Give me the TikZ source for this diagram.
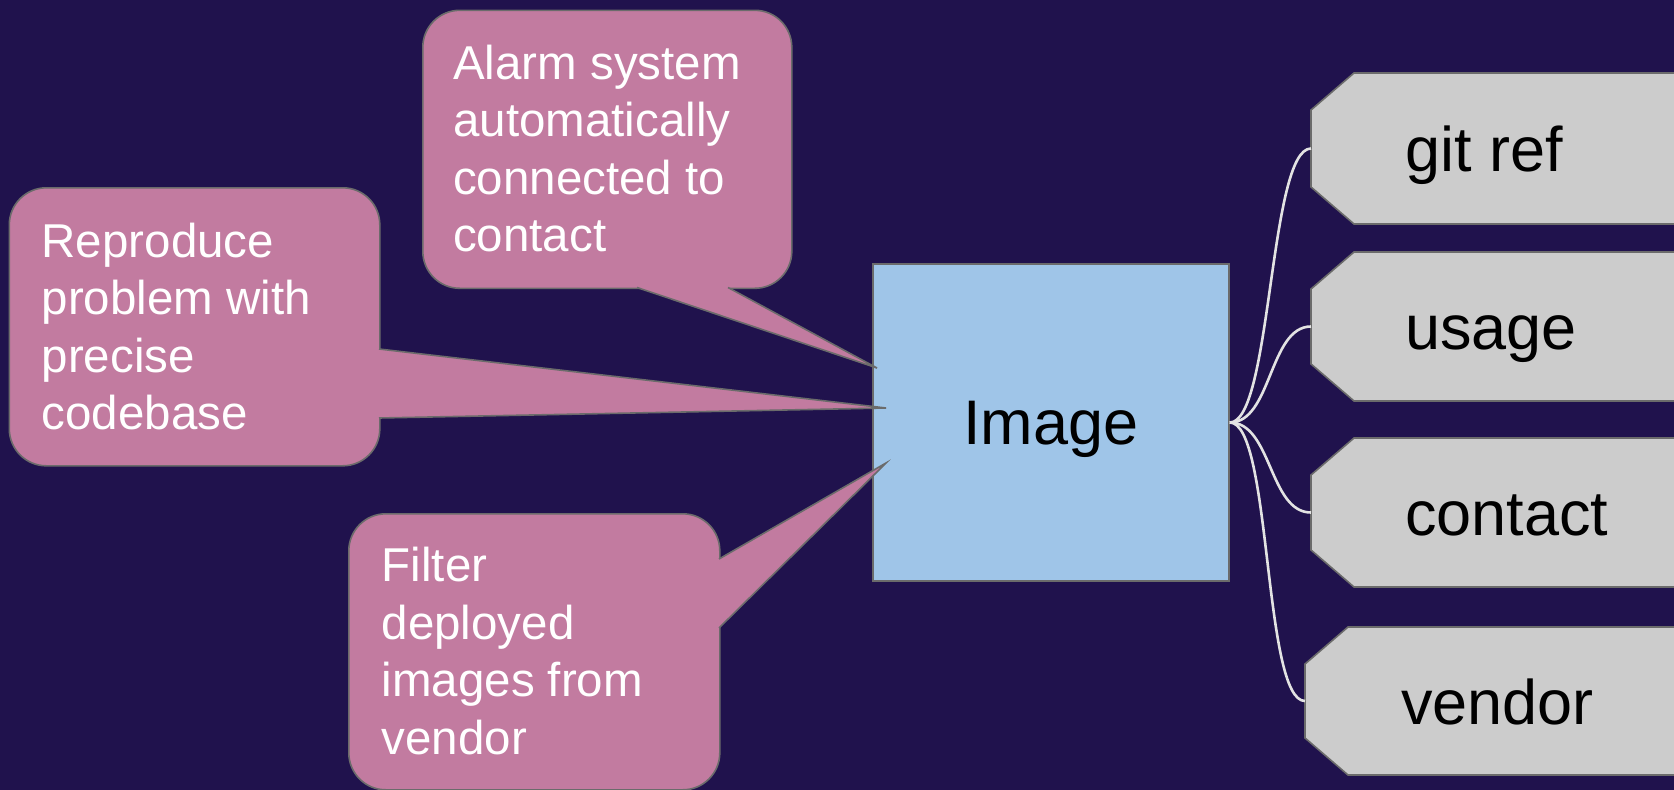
\documentclass[tikz,border=0pt]{standalone}
\usepackage{fontspec}
\setmainfont{Liberation Sans}
\definecolor{bg}{HTML}{20124D}
\definecolor{calloutpink}{HTML}{C27BA0}
\definecolor{imgblue}{HTML}{9FC5E8}
\definecolor{taggray}{HTML}{CCCCCC}
\definecolor{edgegray}{HTML}{6B6B6B}
\definecolor{connlight}{HTML}{E3E3E3}
\tikzset{
  border/.style={draw=edgegray, line width=1.6pt},
  imgbox/.style={border, fill=imgblue, rectangle, inner sep=0pt},
  calloutbox/.style={border, fill=calloutpink, rectangle, rounded corners=37pt, inner sep=0pt},
  tailfill/.style={fill=calloutpink},
  tailedge/.style={draw=edgegray, line width=1.6pt, line join=miter},
  tagshape/.style={border, fill=taggray},
  ctext/.style={text=white, inner sep=0pt, font=\fontsize{47.5}{57.5}\selectfont},
  tagtext/.style={text=black, inner sep=0pt, font=\fontsize{63}{70}\selectfont},
  conn/.style={draw=connlight, line width=2.6pt}
}
\begin{document}
\begin{tikzpicture}[x=1pt,y=-1pt]
\fill[bg] (0,0) rectangle (1674,790);
\useasboundingbox (0,0) rectangle (1674,790);
\clip (0,0) rectangle (1674,790);

% tags
\draw[tagshape] (1354,73) -- (1700,73) -- (1700,224) -- (1354,224) -- (1311,187) -- (1311,110) -- cycle;
\coordinate (gitL) at (1311,148.5);
\node[tagtext, anchor=base west] (gittxt) at (1405,171) {git ref};

\draw[tagshape] (1354,252) -- (1700,252) -- (1700,401) -- (1354,401) -- (1311,364) -- (1311,289) -- cycle;
\coordinate (usageL) at (1311,326.5);
\node[tagtext, anchor=base west] (usagetxt) at (1405,349) {usage};

\draw[tagshape] (1354,438) -- (1700,438) -- (1700,587) -- (1354,587) -- (1311,550) -- (1311,475) -- cycle;
\coordinate (contactL) at (1311,512.5);
\node[tagtext, anchor=base west] (contacttxt) at (1405,535) {contact};

\draw[tagshape] (1348,627) -- (1700,627) -- (1700,775) -- (1348,775) -- (1305,738) -- (1305,664) -- cycle;
\coordinate (vendorL) at (1305,701);
\node[tagtext, anchor=base west] (vendortxt) at (1401,724) {vendor};

% central image node
\node[imgbox, minimum width=356pt, minimum height=317pt, text depth=0pt,
      font=\fontsize{63}{70}\selectfont] (img) at (1051,422.5) {Image};

% connectors
\draw[conn] (img.east) .. controls +(42,0) and +(-42,0) .. (gitL);
\draw[conn] (img.east) .. controls +(42,0) and +(-42,0) .. (usageL);
\draw[conn] (img.east) .. controls +(42,0) and +(-42,0) .. (contactL);
\draw[conn] (img.east) .. controls +(42,0) and +(-42,0) .. (vendorL);

% callout: Reproduce
\node[calloutbox, minimum width=370.5pt, minimum height=278pt, anchor=north west] (rep) at (8.5,187) {};
\coordinate (repA) at (379,349);
\coordinate (repB) at (379,418);
\coordinate (repTip) at (886,408);
\fill[tailfill] (372,349) -- (repA) -- (repTip) -- (repB) -- (372,418) -- cycle;
\draw[tailedge] (repA) -- (repTip) -- (repB);
\node[ctext, anchor=base west] (reptxt) at (41.5,257) {\parbox[t]{330pt}{\raggedright Reproduce\\problem with\\precise\\codebase}};

% callout: Alarm
\node[calloutbox, minimum width=369pt, minimum height=278pt, anchor=north west] (alarm) at (422,9.5) {};
\coordinate (alA) at (637,287.5);
\coordinate (alB) at (728,287.5);
\coordinate (alTip) at (877,368);
\fill[tailfill] (637,280) -- (alA) -- (alTip) -- (alB) -- (728,280) -- cycle;
\draw[tailedge] (alA) -- (alTip) -- (alB);
\node[ctext, anchor=base west] (alarmtxt) at (453,79) {\parbox[t]{330pt}{\raggedright Alarm system\\automatically\\connected to\\contact}};

% callout: Filter
\node[calloutbox, minimum width=371pt, minimum height=276pt, anchor=north west] (filt) at (348,513) {};
\coordinate (fiA) at (719,559);
\coordinate (fiB) at (719,628);
\coordinate (fiTip) at (886,463);
\fill[tailfill] (712,559) -- (fiA) -- (fiTip) -- (fiB) -- (712,628) -- cycle;
\draw[tailedge] (fiA) -- (fiTip) -- (fiB);
\node[ctext, anchor=base west] (filttxt) at (381.5,581.5) {\parbox[t]{330pt}{\raggedright Filter\\deployed\\images from\\vendor}};
\end{tikzpicture}
\end{document}
